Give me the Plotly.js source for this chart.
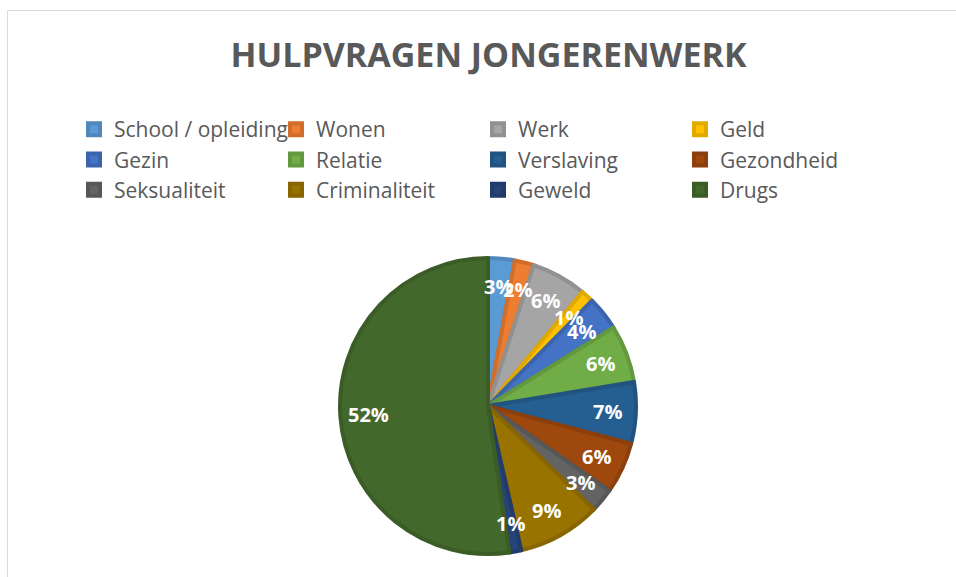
<!DOCTYPE html>
<html>
<head>
<meta charset="utf-8">
<script src="https://cdn.plot.ly/plotly-3.0.1.min.js"></script>
<style>
  html, body { margin: 0; padding: 0; background: #ffffff; }
  #chart { width: 956px; height: 577px; }
</style>
</head>
<body>
<div id="chart"></div>
<script>
// ---- data ----
const categories = ['School / opleiding', 'Wonen', 'Werk', 'Geld', 'Gezin', 'Relatie',
                    'Verslaving', 'Gezondheid', 'Seksualiteit', 'Criminaliteit', 'Geweld', 'Drugs'];
const shares = [2.9, 2.1, 6.0, 1.4, 3.7, 6.3, 6.7, 5.6, 2.6, 9.1, 1.3, 52.3];
const sliceColors = ['#5B9BD5', '#ED7D31', '#A5A5A5', '#FFC000', '#4472C4', '#70AD47',
                     '#255E91', '#9E480E', '#636363', '#997300', '#264478', '#43682B'];
const chartTitle = 'HULPVRAGEN JONGERENWERK';

// ---- layout helpers ----
const W = 956, H = 577;
function darken(hex, f) {
  const n = parseInt(hex.slice(1), 16);
  const r = Math.round(((n >> 16) & 255) * f);
  const g = Math.round(((n >> 8) & 255) * f);
  const b = Math.round((n & 255) * f);
  return 'rgb(' + r + ',' + g + ',' + b + ')';
}
const rimColors = sliceColors.map(c => darken(c, 0.88));

// pie box (pixels -> paper)
const pieBox = { left: 340, right: 636, top: 258, bottom: 554 };
const domX = [pieBox.left / W, pieBox.right / W];
const domY = [1 - pieBox.bottom / H, 1 - pieBox.top / H];

const total = shares.reduce((a, b) => a + b, 0);
const cx = (pieBox.left + pieBox.right) / 2;
const cy = (pieBox.top + pieBox.bottom) / 2;
const R = Math.min(pieBox.right - pieBox.left, pieBox.bottom - pieBox.top) / 2;
const labelFrac = 0.81;

const annotations = [];
let cum = 0;
shares.forEach((v, i) => {
  const ang = 2 * Math.PI * (cum + v / 2) / total;
  cum += v;
  const px = cx + labelFrac * R * Math.sin(ang);
  const py = cy - labelFrac * R * Math.cos(ang);
  annotations.push({
    xref: 'paper', yref: 'paper',
    x: px / W, y: 1 - py / H,
    xanchor: 'center', yanchor: 'middle',
    text: Math.round(v / total * 100) + '%',
    showarrow: false,
    font: { family: 'Open Sans, sans-serif', size: 20, color: '#ffffff', weight: 'bold' }
  });
});

const trace = {
  type: 'pie',
  labels: categories,
  values: shares,
  sort: false,
  direction: 'clockwise',
  rotation: 0,
  domain: { x: domX, y: domY },
  marker: { colors: sliceColors, line: { color: rimColors, width: 4 } },
  textinfo: 'none',
  hoverinfo: 'label+percent',
  showlegend: true
};

const layout = {
  width: W, height: H,
  margin: { l: 0, r: 0, t: 0, b: 0 },
  paper_bgcolor: '#ffffff',
  plot_bgcolor: '#ffffff',
  title: {
    text: chartTitle,
    x: 488.5 / W, xanchor: 'center',
    y: 1 - 55 / H, yanchor: 'middle',
    xref: 'container', yref: 'container',
    font: { family: 'Open Sans, sans-serif', size: 34, color: '#595959', weight: 'bold' }
  },
  legend: {
    orientation: 'h',
    x: 74 / W, xanchor: 'left',
    y: 1 - 109 / H, yanchor: 'top',
    entrywidth: 157, entrywidthmode: 'pixels',
    itemwidth: 30,
    traceorder: 'normal',
    font: { family: 'Open Sans, sans-serif', size: 21, color: '#595959' },
    bgcolor: 'rgba(0,0,0,0)'
  },
  shapes: [{
    type: 'rect', xref: 'paper', yref: 'paper',
    x0: 7.5 / W, x1: 1.05, y0: -0.05, y1: 1 - 10.5 / H,
    line: { color: '#D9D9D9', width: 1 }, fillcolor: 'rgba(0,0,0,0)', layer: 'below'
  }],
  annotations: annotations
};

Plotly.newPlot('chart', [trace], layout, { displayModeBar: false, responsive: false });
</script>
</body>
</html>
